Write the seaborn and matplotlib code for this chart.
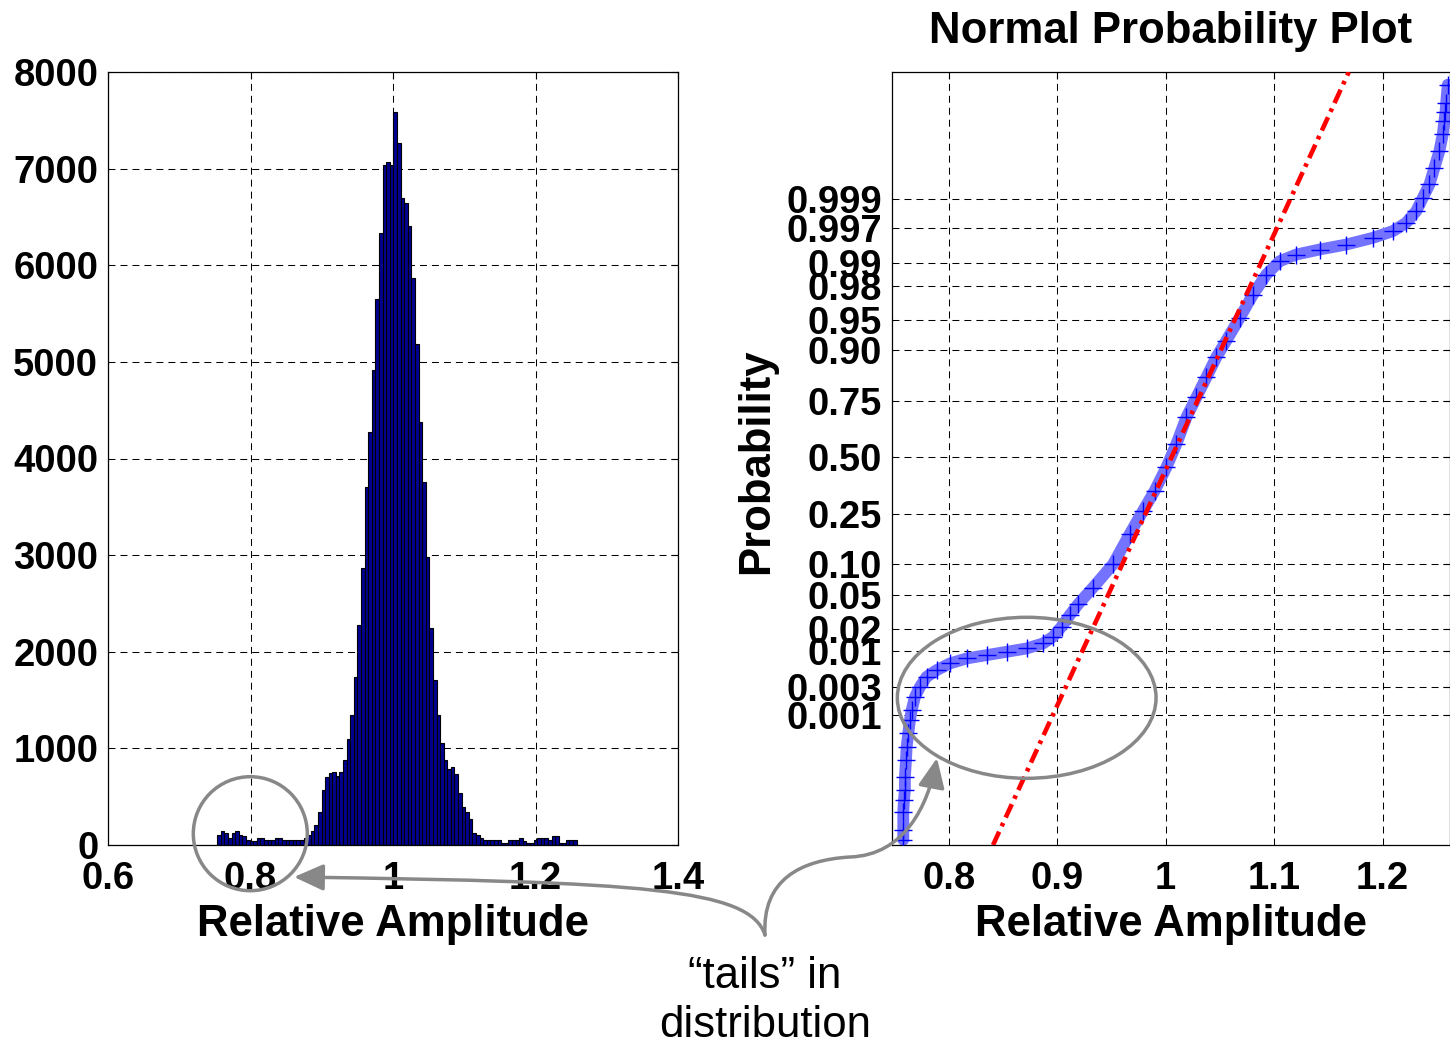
import math
import numpy as np
import pandas as pd
import matplotlib
matplotlib.use("Agg")
import matplotlib.pyplot as plt
import seaborn as sns
from matplotlib.path import Path
from matplotlib.patches import FancyArrowPatch, Ellipse

# ---------------- data ----------------
hist_range = [0.7534, 1.2578]
hist_counts = [
    104, 145, 121, 69, 121, 145, 104, 98, 52, 45,
    45, 69, 69, 52, 52, 52, 69, 69, 52, 52,
    52, 52, 52, 52, 72, 100, 143, 205, 345, 565,
    707, 740, 759, 714, 756, 880, 1094, 1342, 1736, 2274,
    2864, 3709, 4278, 4917, 5649, 6332, 7039, 7067, 7039, 7581,
    7263, 6694, 6649, 6408, 5866, 5183, 4375, 3761, 2985, 2243,
    1708, 1342, 1053, 880, 783, 811, 735, 535, 390, 345,
    266, 121, 100, 76, 52, 52, 52, 52, 52, 24,
    24, 52, 52, 52, 76, 45, 24, 24, 52, 76,
    76, 76, 52, 96, 96, 24, 24, 52, 52, 52,
]
hist_xticks = [0.6, 0.8, 1.0, 1.2, 1.4]
hist_xticklabels = ["0.6", "0.8", "1", "1.2", "1.4"]
hist_yticks = [0, 1000, 2000, 3000, 4000, 5000, 6000, 7000, 8000]

prob_x = [0.7579, 0.7579, 0.7579, 0.7585, 0.7594, 0.7594, 0.7604, 0.7610, 0.7625, 0.7641,
          0.7656, 0.7687, 0.7733, 0.7794, 0.7887, 0.8009, 0.8163, 0.8347, 0.8532, 0.8716,
          0.8869, 0.8961, 0.9039, 0.9115, 0.9192, 0.9330, 0.9514, 0.9668, 0.9791, 0.9899,
          1.0006, 1.0099, 1.0191, 1.0283, 1.0375, 1.0467, 1.0559, 1.0682, 1.0805, 1.0928,
          1.1051, 1.1205, 1.1419, 1.1665, 1.1911, 1.2095, 1.2218, 1.2311, 1.2372, 1.2433,
          1.2479, 1.2525, 1.2556, 1.2571, 1.2581, 1.2587, 1.2602]
prob_p = [2.3e-6, 3.9e-6, 1.07e-5, 1.98e-5, 3.3e-5, 6.4e-5, 1.42e-4, 2.6e-4, 4.7e-4, 8.2e-4,
          1.22e-3, 2.05e-3, 2.98e-3, 4.27e-3, 5.39e-3, 6.76e-3, 7.98e-3, 8.89e-3, 9.90e-3, 1.10e-2,
          1.29e-2, 1.58e-2, 2.12e-2, 2.94e-2, 3.92e-2, 5.94e-2, 0.100, 0.179, 0.261, 0.345,
          0.452, 0.564, 0.684, 0.764, 0.831, 0.885, 0.919, 0.9525, 0.9744, 0.9857,
          0.99061, 0.99245, 0.99361, 0.99461, 0.99573, 0.99664, 0.99752, 0.99841, 0.999065, 0.999462,
          0.999740, 0.999879, 0.999946, 0.999972, 0.999982, 0.999989, 0.999996]
prob_xticks = [0.8, 0.9, 1.0, 1.1, 1.2]
prob_xticklabels = ["0.8", "0.9", "1", "1.1", "1.2"]
prob_ticks = [0.001, 0.003, 0.01, 0.02, 0.05, 0.10, 0.25, 0.50, 0.75, 0.90, 0.95, 0.98, 0.99, 0.997, 0.999]
prob_ticklabels = ["0.001", "0.003", "0.01", "0.02", "0.05", "0.10", "0.25", "0.50",
                   "0.75", "0.90", "0.95", "0.98", "0.99", "0.997", "0.999"]
ref_line_x = [0.9814, 1.0292]   # reference line through the quartiles
ref_line_p = [0.25, 0.75]

# ---------------- helpers ----------------
def norm_cdf(z):
    return 0.5 * math.erfc(-z / math.sqrt(2.0))

def _ppf(p):
    lo, hi = -12.0, 12.0
    for _ in range(90):
        mid = 0.5 * (lo + hi)
        if norm_cdf(mid) < p:
            lo = mid
        else:
            hi = mid
    return 0.5 * (lo + hi)

norm_ppf = np.vectorize(_ppf)

W, H = 1450, 1046
def fig_xy(px, py):
    return (px / W, 1.0 - py / H)

# ---------------- style ----------------
sns.set_style("white")
plt.rcParams["font.family"] = ["Liberation Sans", "DejaVu Sans"]
plt.rcParams["axes.linewidth"] = 0.9
for key in ("text.color", "axes.labelcolor", "xtick.color", "ytick.color", "axes.edgecolor"):
    plt.rcParams[key] = "black"

fig = plt.figure(figsize=(W / 100, H / 100), dpi=100)
fig.patch.set_facecolor("white")

grid_kw = dict(color="black", linestyle=(0, (6.7, 4.8)), linewidth=0.75)
TICK_FS = 27.5
LABEL_FS = 31.5

# ---------------- left: histogram ----------------
ax1 = fig.add_axes([108 / W, 1 - 845 / H, 570 / W, 773 / H])
edges = [float(e) for e in np.linspace(hist_range[0], hist_range[1], len(hist_counts) + 1)]
centers = [0.5 * (a + b) for a, b in zip(edges[:-1], edges[1:])]
df_hist = pd.DataFrame({"amp": centers, "count": hist_counts})
sns.histplot(data=df_hist, x="amp", weights="count", bins=edges, ax=ax1,
             color="#000090", edgecolor="black", linewidth=0.8, alpha=1.0)
ax1.set_xlim(0.6, 1.4)
ax1.set_ylim(0, 8000)
ax1.set_xticks(hist_xticks)
ax1.set_xticklabels(hist_xticklabels)
ax1.set_yticks(hist_yticks)
ax1.set_yticklabels([str(v) for v in hist_yticks])
ax1.set_axisbelow(True)
ax1.grid(True, **grid_kw)
ax1.set_ylabel("")
ax1.set_xlabel("Relative Amplitude", fontsize=LABEL_FS, fontweight="bold", labelpad=5)

# ---------------- right: normal probability plot ----------------
ax2 = fig.add_axes([892 / W, 1 - 845 / H, 557.5 / W, 773 / H])
z_pts = norm_ppf(np.array(prob_p))
df_prob = pd.DataFrame({"x": prob_x, "z": z_pts})
sns.lineplot(data=df_prob, x="x", y="z", sort=False, estimator=None, ax=ax2,
             color="#7373ff", linewidth=8.5, zorder=2)
sns.scatterplot(data=df_prob, x="x", y="z", marker="+", s=150, color="#0000ff",
                linewidth=1.0, ax=ax2, zorder=3)

ylo, yhi = -4.645, 4.617
zq = norm_ppf(np.array(ref_line_p))
slope = (ref_line_x[1] - ref_line_x[0]) / (zq[1] - zq[0])
line_z = np.array([ylo, yhi])
line_x = ref_line_x[0] + (line_z - zq[0]) * slope
ax2.plot(line_x, line_z, color="#ff0000", linewidth=3.3,
         dashes=(3.2, 1.3, 0.8, 1.3), zorder=4)

ax2.set_xlim(0.7475, 1.2618)
ax2.set_ylim(ylo, yhi)
ax2.set_xticks(prob_xticks)
ax2.set_xticklabels(prob_xticklabels)
ax2.set_yticks(norm_ppf(np.array(prob_ticks)))
ax2.set_yticklabels(prob_ticklabels)
ax2.set_axisbelow(True)
ax2.grid(True, **grid_kw)
ax2.set_xlabel("Relative Amplitude", fontsize=LABEL_FS, fontweight="bold", labelpad=5)
ax2.set_ylabel("Probability", fontsize=LABEL_FS, fontweight="bold", va="center")
ax2.yaxis.set_label_coords((757 - 892) / 557.5, (845 - 461) / 773)
ax2.set_title("Normal Probability Plot", fontsize=LABEL_FS, fontweight="bold", pad=21)

for ax in (ax1, ax2):
    ax.tick_params(direction="in", length=5, width=0.8, top=True, right=True,
                   labelsize=TICK_FS, colors="black")
    ax.tick_params(axis="x", pad=11.5)
    ax.tick_params(axis="y", pad=7)
    for lbl in ax.get_xticklabels() + ax.get_yticklabels():
        lbl.set_fontweight("bold")
    for sp in ax.spines.values():
        sp.set_visible(True)
        sp.set_color("black")

# ---------------- annotations ----------------
gray = "#888888"
cx, cy = fig_xy(250.3, 833.7)
fig.add_artist(Ellipse((cx, cy), 114 / W, 114 / H, transform=fig.transFigure,
                       facecolor="none", edgecolor=gray, linewidth=2.5, zorder=5))
ex, ey = fig_xy(1026.7, 697.8)
fig.add_artist(Ellipse((ex, ey), 258.7 / W, 161 / H, transform=fig.transFigure,
                       facecolor="none", edgecolor=gray, linewidth=2.5, zorder=5))

p1 = [fig_xy(*p) for p in [(765, 935), (750, 888), (640, 882), (294, 877)]]
arrow1 = FancyArrowPatch(path=Path(p1, [Path.MOVETO, Path.CURVE4, Path.CURVE4, Path.CURVE4]),
                         arrowstyle="-|>,head_length=1.0,head_width=0.45", mutation_scale=18,
                         transform=fig.transFigure, color=gray, linewidth=2.5, zorder=5)
fig.add_artist(arrow1)

p2 = [fig_xy(*p) for p in [(765, 935), (762, 880), (800, 860), (850, 857),
                           (905, 855), (928, 805), (937, 758)]]
arrow2 = FancyArrowPatch(path=Path(p2, [Path.MOVETO, Path.CURVE4, Path.CURVE4, Path.CURVE4,
                                        Path.CURVE4, Path.CURVE4, Path.CURVE4]),
                         arrowstyle="-|>,head_length=1.0,head_width=0.45", mutation_scale=18,
                         transform=fig.transFigure, color=gray, linewidth=2.5, zorder=5)
fig.add_artist(arrow2)

tx, ty = fig_xy(765, 1001)
fig.text(tx, ty, "\u201ctails\u201d in\ndistribution", ha="center", va="center",
         fontsize=LABEL_FS, fontweight="normal", linespacing=1.28, color="black")

fig.savefig("out.png", dpi=100, facecolor="white")
